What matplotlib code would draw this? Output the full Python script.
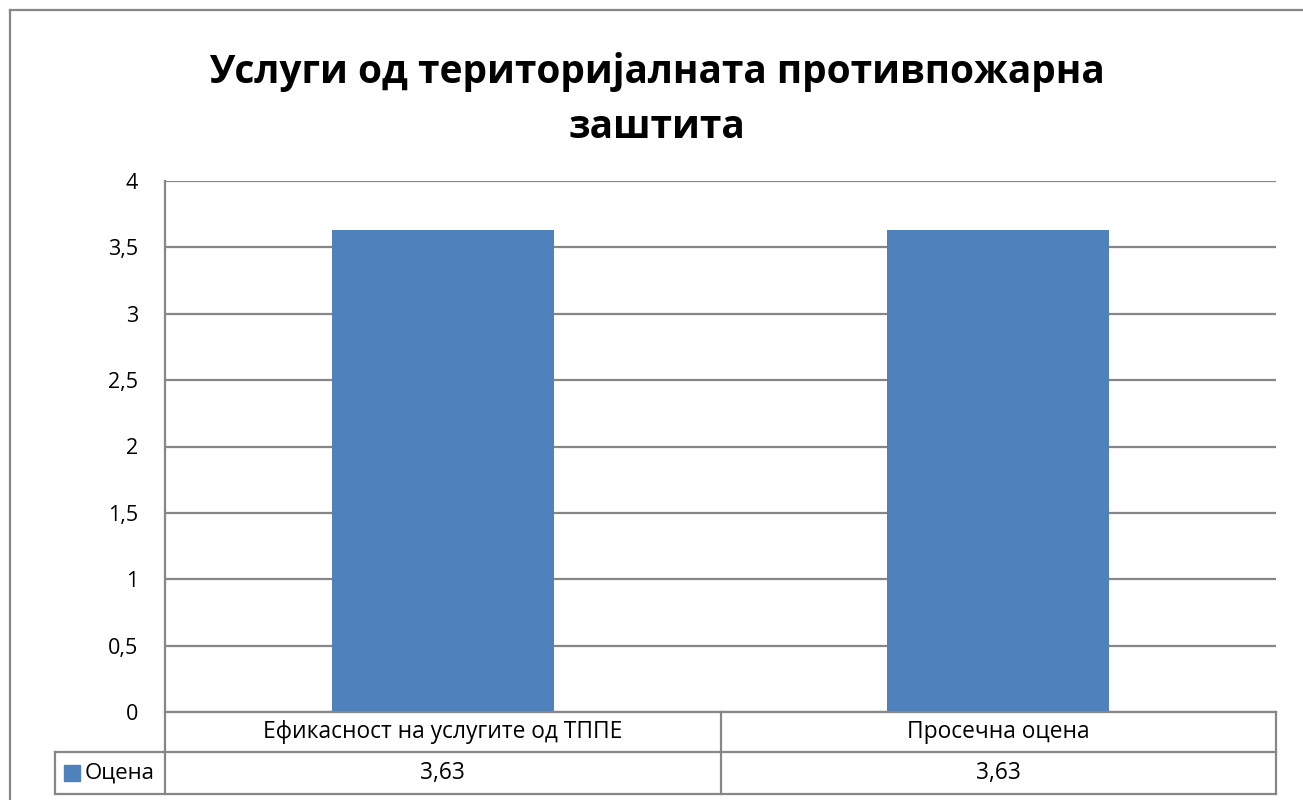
import matplotlib.pyplot as plt
from matplotlib.lines import Line2D
from matplotlib.patches import Rectangle
import matplotlib.transforms as mtransforms

# chart data
categories = ['Ефикасност на услугите од ТППЕ', 'Просечна оцена']
values = [3.63, 3.63]
series_name = 'Оцена'
y_ticks = [0, 0.5, 1, 1.5, 2, 2.5, 3, 3.5, 4]

BAR = '#4f81bd'
GRID = '#868686'
W, H = 1303, 800

plt.rcParams['font.family'] = ['Open Sans', 'DejaVu Sans']


def fy(py):
    # pixel row (from top) -> figure fraction
    return 1 - py / H


def fx(px):
    return px / W


def main():
    fig = plt.figure(figsize=(W / 100, H / 100), dpi=100)
    ax = fig.add_axes([fx(165), fy(712), fx(1276) - fx(165), fy(181) - fy(712)])

    xs = list(range(len(categories)))
    ax.bar(xs, values, width=0.4, color=BAR, zorder=3)
    ax.set_xlim(-0.5, len(categories) - 0.5)
    ax.set_ylim(0, 4)
    ax.set_yticks(y_ticks)
    ax.set_yticklabels([('%g' % t).replace('.', ',') for t in y_ticks], fontsize=15.5)
    ax.tick_params(axis='y', length=0, pad=19.5)
    ax.set_xticks([])
    ax.grid(axis='y', color=GRID, lw=1.6, zorder=0)
    for s in ['top', 'right', 'bottom']:
        ax.spines[s].set_visible(False)
    ax.spines['left'].set_color(GRID)
    ax.spines['left'].set_linewidth(1.6)

    fig.suptitle('Услуги од територијалната противпожарна\nзаштита',
                 x=fx(657), y=fy(52), fontsize=28, fontweight='bold',
                 va='top', linespacing=1.52)

    # outer chart border
    fig.add_artist(Line2D([fx(10), fx(10)], [fy(10), fy(800)], transform=fig.transFigure, color=GRID, lw=1.6))
    fig.add_artist(Line2D([fx(10), fx(1303)], [fy(10), fy(10)], transform=fig.transFigure, color=GRID, lw=1.6))

    # data table below the plot
    def hline(py, x0, x1):
        fig.add_artist(Line2D([fx(x0), fx(x1)], [fy(py), fy(py)], transform=fig.transFigure, color=GRID, lw=1.6))

    def vline(px, y0, y1):
        fig.add_artist(Line2D([fx(px), fx(px)], [fy(y0), fy(y1)], transform=fig.transFigure, color=GRID, lw=1.6))

    hline(712, 165, 1276)
    hline(752, 55, 1276)
    hline(794, 55, 1276)
    vline(55, 752, 794)
    vline(165, 712, 794)
    vline(1276, 712, 794)
    for i in range(1, len(categories)):
        bx = ax.transData.transform((i - 0.5, 0))[0]
        vline(bx, 712, 794)

    trans = mtransforms.blended_transform_factory(ax.transData, fig.transFigure)
    for i, (c, v) in enumerate(zip(categories, values)):
        fig.text(i, fy(732), c, transform=trans, ha='center', va='center', fontsize=16.4)
        fig.text(i, fy(773), ('%.2f' % v).replace('.', ','), transform=trans,
                 ha='center', va='center', fontsize=16.4)

    fig.add_artist(Rectangle((fx(64), fy(781)), fx(16), fy(765) - fy(781),
                             transform=fig.transFigure, color=BAR))
    fig.text(fx(85), fy(773), series_name, ha='left', va='center', fontsize=16)

    fig.savefig('out.png', dpi=100, facecolor='white')


if __name__ == '__main__':
    main()
